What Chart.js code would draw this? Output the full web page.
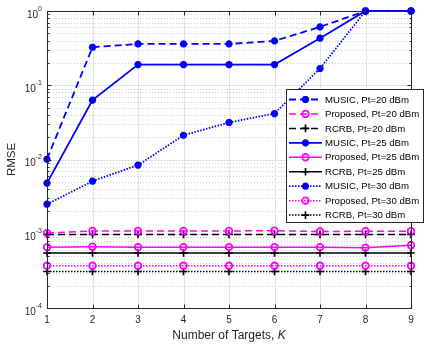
<!DOCTYPE html>
<html>
<head>
<meta charset="utf-8">
<script src="https://cdn.jsdelivr.net/npm/chart.js@4.4.1/dist/chart.umd.min.js"></script>
<style>
  html, body { margin: 0; padding: 0; background: #ffffff; }
  #wrap { width: 424px; height: 346px; }
</style>
</head>
<body>
<div id="wrap"><canvas id="rmse-chart" width="424" height="346"></canvas></div>
<script>
// Number of targets K on the x axis
const kValues = [1, 2, 3, 4, 5, 6, 7, 8, 9];
const xTickLabels = ['1', '2', '3', '4', '5', '6', '7', '8', '9'];
const yDecades = [-4, -3, -2, -1, 0];

// RMSE
const music20 = [0.0101, 0.325, 0.36, 0.36, 0.36, 0.395, 0.61, 1, 1];
const proposed20 = [0.00102, 0.00109, 0.00109, 0.00109, 0.00109, 0.00110, 0.00107, 0.00108, 0.00108];
const rcrb20 = [0.00098, 0.00098, 0.00098, 0.00098, 0.00098, 0.00098, 0.00098, 0.00098, 0.00098];
const music25 = [0.0048, 0.063, 0.19, 0.19, 0.19, 0.19, 0.43, 1, 1];
const proposed25 = [0.00066, 0.00067, 0.00066, 0.00066, 0.00066, 0.00066, 0.00066, 0.00065, 0.00070];
const rcrb25 = [0.00055, 0.00055, 0.00055, 0.00055, 0.00055, 0.00055, 0.00055, 0.00055, 0.00055];
const music30 = [0.0025, 0.0051, 0.0084, 0.0212, 0.0315, 0.0416, 0.168, 1, 1];
const proposed30 = [0.00037, 0.00037, 0.00037, 0.00037, 0.00037, 0.00037, 0.00037, 0.00037, 0.00037];
const rcrb30 = [0.00031, 0.00031, 0.00031, 0.00031, 0.00031, 0.00031, 0.00031, 0.00031, 0.00031];

const seriesLabels = [
    'MUSIC, Pt=20 dBm', 'Proposed, Pt=20 dBm', 'RCRB, Pt=20 dBm',
    'MUSIC, Pt=25 dBm', 'Proposed, Pt=25 dBm', 'RCRB, Pt=25 dBm',
    'MUSIC, Pt=30 dBm', 'Proposed, Pt=30 dBm', 'RCRB, Pt=30 dBm'
];

const BLUE = '#0000ff';
const MAGENTA = '#ff00ff';
const BLACK = '#000000';
const AXIS_COLOR = '#262626';
const FONT = '"Liberation Sans", Arial, sans-serif';

const DASHED = [7, 4];
const DOTTED = [1.5, 1.5];

function toPoints(values) {
    return values.map((v, i) => ({ x: kValues[i], y: v }));
}

function musicSet(label, values, dash) {
    return {
        label, data: toPoints(values),
        borderColor: BLUE, backgroundColor: BLUE,
        borderWidth: 1.8, borderDash: dash,
        pointStyle: 'star', pointRadius: 3.6,
        pointBorderWidth: 2.4, pointBorderColor: BLUE, pointBackgroundColor: BLUE,
        tension: 0, clip: false
    };
}

function proposedSet(label, values, dash) {
    return {
        label, data: toPoints(values),
        borderColor: MAGENTA, backgroundColor: 'transparent',
        borderWidth: 1.5, borderDash: dash,
        pointStyle: 'circle', pointRadius: 3.3,
        pointBorderWidth: 1.8, pointBorderColor: MAGENTA, pointBackgroundColor: 'transparent',
        tension: 0, clip: false
    };
}

function rcrbSet(label, values, dash) {
    return {
        label, data: toPoints(values),
        borderColor: BLACK, backgroundColor: BLACK,
        borderWidth: 1.5, borderDash: dash,
        pointStyle: 'cross', pointRadius: 3.8,
        pointBorderWidth: 1.6, pointBorderColor: BLACK, pointBackgroundColor: BLACK,
        tension: 0, clip: false
    };
}

const datasets = [
    musicSet(seriesLabels[0], music20, DASHED),
    proposedSet(seriesLabels[1], proposed20, DASHED),
    rcrbSet(seriesLabels[2], rcrb20, DASHED),
    musicSet(seriesLabels[3], music25, []),
    proposedSet(seriesLabels[4], proposed25, []),
    rcrbSet(seriesLabels[5], rcrb25, []),
    musicSet(seriesLabels[6], music30, DOTTED),
    proposedSet(seriesLabels[7], proposed30, DOTTED),
    rcrbSet(seriesLabels[8], rcrb30, DOTTED)
];

// Grid behind the lines (MATLAB style: solid major, dotted minor)
const gridPlugin = {
    id: 'matlabGrid',
    beforeDatasetsDraw(chart) {
        const { ctx, chartArea: a, scales: { x, y } } = chart;
        ctx.save();
        ctx.lineWidth = 1;
        // minor y grid
        ctx.strokeStyle = '#cfcfcf';
        ctx.setLineDash([1, 2]);
        for (let e = yDecades[0]; e < yDecades[yDecades.length - 1]; e++) {
            for (let m = 2; m <= 9; m++) {
                const py = Math.round(y.getPixelForValue(m * Math.pow(10, e))) + 0.5;
                ctx.beginPath();
                ctx.moveTo(a.left, py);
                ctx.lineTo(a.right, py);
                ctx.stroke();
            }
        }
        // major grid
        ctx.setLineDash([]);
        ctx.strokeStyle = '#e2e2e2';
        yDecades.forEach(e => {
            const py = Math.round(y.getPixelForValue(Math.pow(10, e))) + 0.5;
            ctx.beginPath();
            ctx.moveTo(a.left, py);
            ctx.lineTo(a.right, py);
            ctx.stroke();
        });
        kValues.forEach(k => {
            const px = Math.round(x.getPixelForValue(k)) + 0.5;
            ctx.beginPath();
            ctx.moveTo(px, a.top);
            ctx.lineTo(px, a.bottom);
            ctx.stroke();
        });
        ctx.restore();
    }
};

// Axes box, inward ticks, tick labels, axis titles
const axesPlugin = {
    id: 'matlabAxes',
    afterDatasetsDraw(chart) {
        const { ctx, chartArea: a, scales: { x, y } } = chart;
        ctx.save();
        ctx.strokeStyle = AXIS_COLOR;
        ctx.lineWidth = 1;
        const L = Math.round(a.left) + 0.5, R = Math.round(a.right) + 0.5;
        const T = Math.round(a.top) + 0.5, B = Math.round(a.bottom) + 0.5;
        ctx.strokeRect(L, T, R - L, B - T);

        ctx.beginPath();
        kValues.forEach(k => {
            const px = Math.round(x.getPixelForValue(k)) + 0.5;
            ctx.moveTo(px, B); ctx.lineTo(px, B - 4);
            ctx.moveTo(px, T); ctx.lineTo(px, T + 4);
        });
        for (let e = yDecades[0]; e <= yDecades[yDecades.length - 1]; e++) {
            const py = Math.round(y.getPixelForValue(Math.pow(10, e))) + 0.5;
            ctx.moveTo(L, py); ctx.lineTo(L + 4, py);
            ctx.moveTo(R, py); ctx.lineTo(R - 4, py);
            if (e === yDecades[yDecades.length - 1]) break;
            for (let m = 2; m <= 9; m++) {
                const pm = Math.round(y.getPixelForValue(m * Math.pow(10, e))) + 0.5;
                ctx.moveTo(L, pm); ctx.lineTo(L + 2, pm);
                ctx.moveTo(R, pm); ctx.lineTo(R - 2, pm);
            }
        }
        ctx.stroke();

        // x tick labels
        ctx.fillStyle = AXIS_COLOR;
        ctx.font = '10px ' + FONT;
        ctx.textAlign = 'center';
        ctx.textBaseline = 'middle';
        kValues.forEach((k, i) => {
            ctx.fillText(xTickLabels[i], x.getPixelForValue(k), a.bottom + 12);
        });

        // y tick labels 10^e
        yDecades.forEach(e => {
            const py = y.getPixelForValue(Math.pow(10, e));
            const exp = String(e);
            ctx.font = '7px ' + FONT;
            const ew = ctx.measureText(exp).width;
            ctx.textAlign = 'right';
            ctx.textBaseline = 'alphabetic';
            ctx.fillText(exp, a.left - 5, py - 0.5);
            ctx.font = '10px ' + FONT;
            ctx.fillText('10', a.left - 5 - ew, py + 6.5);
        });

        // x axis title with italic K
        const t1 = 'Number of Targets, ';
        const t2 = 'K';
        ctx.font = '12px ' + FONT;
        const w1 = ctx.measureText(t1).width;
        ctx.font = 'italic 12px ' + FONT;
        const w2 = ctx.measureText(t2).width;
        const startX = (a.left + a.right) / 2 - (w1 + w2) / 2;
        ctx.textAlign = 'left';
        ctx.textBaseline = 'middle';
        ctx.font = '12px ' + FONT;
        ctx.fillText(t1, startX, a.bottom + 28);
        ctx.font = 'italic 12px ' + FONT;
        ctx.fillText(t2, startX + w1, a.bottom + 28);

        // y axis title
        ctx.translate(12, (a.top + a.bottom) / 2);
        ctx.rotate(-Math.PI / 2);
        ctx.font = '11.5px ' + FONT;
        ctx.textAlign = 'center';
        ctx.textBaseline = 'middle';
        ctx.fillText('RMSE', 0, 0);
        ctx.restore();
    }
};

// Legend box drawn over the plot, overhanging the right edge like the original
const legendPlugin = {
    id: 'boxLegend',
    afterDraw(chart) {
        const { ctx } = chart;
        const box = { left: 286.5, top: 89.5, right: 423.5, bottom: 222.5 };
        const rowTop = 99.5;
        const rowStep = 14.45;
        ctx.save();
        ctx.fillStyle = '#ffffff';
        ctx.fillRect(box.left, box.top, box.right - box.left, box.bottom - box.top);
        ctx.strokeStyle = AXIS_COLOR;
        ctx.lineWidth = 1;
        ctx.strokeRect(box.left, box.top, box.right - box.left, box.bottom - box.top);

        chart.data.datasets.forEach((ds, i) => {
            const cy = rowTop + i * rowStep;
            ctx.save();
            ctx.strokeStyle = ds.borderColor;
            ctx.lineWidth = ds.borderWidth;
            ctx.setLineDash(ds.borderDash || []);
            ctx.beginPath();
            ctx.moveTo(289, cy);
            ctx.lineTo(322, cy);
            ctx.stroke();

            ctx.setLineDash([]);
            ctx.strokeStyle = ds.pointBorderColor;
            ctx.fillStyle = ds.pointBackgroundColor;
            ctx.lineWidth = ds.pointBorderWidth;
            Chart.helpers.drawPoint(ctx, {
                pointStyle: ds.pointStyle,
                radius: ds.pointRadius,
                borderWidth: ds.pointBorderWidth,
                rotation: 0
            }, 305.5, cy);
            ctx.restore();

            ctx.fillStyle = '#000000';
            ctx.font = '9.6px ' + FONT;
            ctx.textAlign = 'left';
            ctx.textBaseline = 'middle';
            ctx.fillText(ds.label, 325, cy + 0.5);
        });
        ctx.restore();
    }
};

new Chart(document.getElementById('rmse-chart'), {
    type: 'line',
    data: { datasets },
    plugins: [gridPlugin, axesPlugin, legendPlugin],
    options: {
        responsive: false,
        animation: false,
        layout: { padding: { left: 47, right: 13, top: 11, bottom: 38 } },
        plugins: {
            legend: { display: false },
            tooltip: { enabled: false }
        },
        scales: {
            x: { type: 'linear', min: 1, max: 9, display: false },
            y: { type: 'logarithmic', min: 1e-4, max: 1, display: false }
        }
    }
});
</script>
</body>
</html>
